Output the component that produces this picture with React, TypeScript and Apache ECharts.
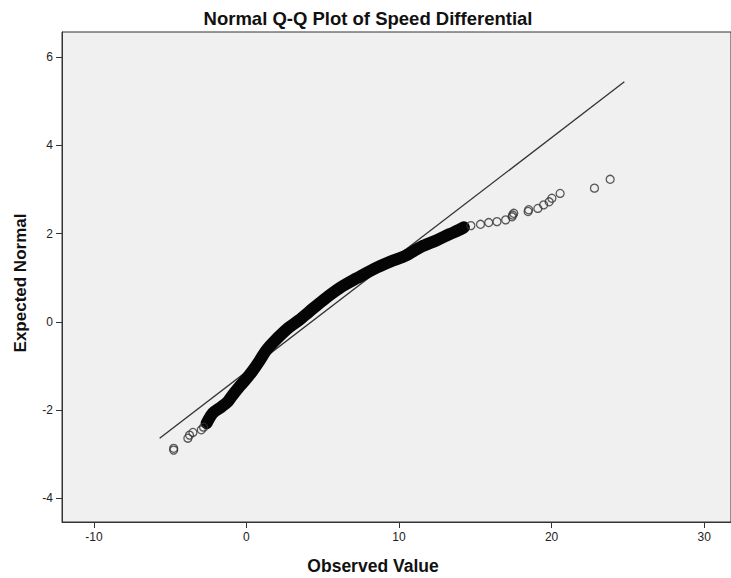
import React, { useEffect, useRef } from "react";
import * as echarts from "echarts";

const xTicks = [-10, 0, 10, 20, 30];
const yTicks = [-4, -2, 0, 2, 4, 6];

// dense core of overlapping points (observed value, expected normal)
const coreObserved = [-2.61, -2.2, -1.65, -1.22, -0.9, -0.46, -0.07, 0.39, 0.85, 1.31, 1.83, 2.75, 3.46, 4.12, 5.03, 6.14, 7.25, 8.37, 9.41, 10.44, 11.44, 12.48, 13.33, 13.92, 14.25];
const coreExpected = [-2.3, -2.07, -1.93, -1.81, -1.66, -1.47, -1.32, -1.12, -0.89, -0.64, -0.44, -0.14, 0.04, 0.23, 0.49, 0.77, 0.99, 1.2, 1.36, 1.5, 1.7, 1.85, 1.99, 2.08, 2.14];

// individually visible points
const tailObserved = [-4.77, -4.77, -3.84, -3.73, -3.51, -2.96, -2.81, 14.71, 15.34, 15.88, 16.42, 16.99, 17.41, 17.45, 17.52, 18.46, 18.5, 19.1, 19.48, 19.84, 20.02, 20.56, 22.81, 23.84];
const tailExpected = [-2.87, -2.91, -2.64, -2.57, -2.51, -2.45, -2.39, 2.18, 2.21, 2.25, 2.27, 2.31, 2.38, 2.42, 2.46, 2.5, 2.54, 2.57, 2.65, 2.72, 2.8, 2.91, 3.03, 3.23];

// reference line
const refObserved = [-5.69, 24.77];
const refExpected = [-2.64, 5.44];

const FONT = "'Liberation Sans', Arial, sans-serif";

export default function App() {
  const ref = useRef<HTMLDivElement>(null);
  useEffect(() => {
    if (!ref.current) return;
    const chart = echarts.init(ref.current, null, { renderer: "svg" });
    const core = coreObserved.map((x, i) => [x, coreExpected[i]]);
    const tail = tailObserved.map((x, i) => [x, tailExpected[i]]);
    const refLine = refObserved.map((x, i) => [x, refExpected[i]]);
    chart.setOption({
      animation: false,
      backgroundColor: "#ffffff",
      grid: {
        left: 62,
        top: 32,
        right: -2,
        bottom: 56,
        show: true,
        backgroundColor: "#f0f0f0",
        borderColor: "#333",
        borderWidth: 1,
      },
      xAxis: {
        type: "value",
        min: -12.09,
        max: 31.76,
        splitLine: { show: false },
        axisLine: { show: true, onZero: false, lineStyle: { color: "#333", width: 1 } },
        axisTick: { show: true, length: 6, customValues: xTicks, lineStyle: { color: "#333" } },
        axisLabel: { customValues: xTicks, color: "#222", fontSize: 12, fontFamily: FONT, margin: 9 },
      },
      yAxis: {
        type: "value",
        min: -4.54,
        max: 6.57,
        splitLine: { show: false },
        axisLine: { show: true, onZero: false, lineStyle: { color: "#333", width: 1 } },
        axisTick: { show: true, length: 6, customValues: yTicks, lineStyle: { color: "#333" } },
        axisLabel: { customValues: yTicks, color: "#222", fontSize: 12, fontFamily: FONT, margin: 9 },
      },
      graphic: [
        {
          type: "text",
          x: 368,
          y: 18,
          style: {
            text: "Normal Q-Q Plot of Speed Differential",
            font: `bold 18.5px ${FONT}`,
            fill: "#111",
            align: "center",
            verticalAlign: "middle",
          },
        },
        {
          type: "text",
          x: 373,
          y: 566,
          style: {
            text: "Observed Value",
            font: `bold 17.5px ${FONT}`,
            fill: "#111",
            align: "center",
            verticalAlign: "middle",
          },
        },
        {
          type: "text",
          x: 20,
          y: 283,
          rotation: Math.PI / 2,
          style: {
            text: "Expected Normal",
            font: `bold 17px ${FONT}`,
            fill: "#111",
            align: "center",
            verticalAlign: "middle",
          },
        },
      ],
      series: [
        {
          type: "line",
          data: refLine,
          showSymbol: false,
          silent: true,
          lineStyle: { color: "#333", width: 1.3 },
          z: 2,
        },
        {
          type: "line",
          data: core,
          showSymbol: false,
          smooth: 0.3,
          silent: true,
          lineStyle: { color: "#050505", width: 12, cap: "round", join: "round" },
          z: 3,
        },
        {
          type: "scatter",
          data: tail,
          symbol: "circle",
          symbolSize: 8,
          itemStyle: { color: "rgba(0,0,0,0)", borderColor: "#333", borderWidth: 1.3 },
          z: 4,
        },
      ],
    });
    return () => chart.dispose();
  }, []);
  return (
    <div
      ref={ref}
      style={{ position: "absolute", left: 0, top: 0, width: 731, height: 578 }}
    />
  );
}
